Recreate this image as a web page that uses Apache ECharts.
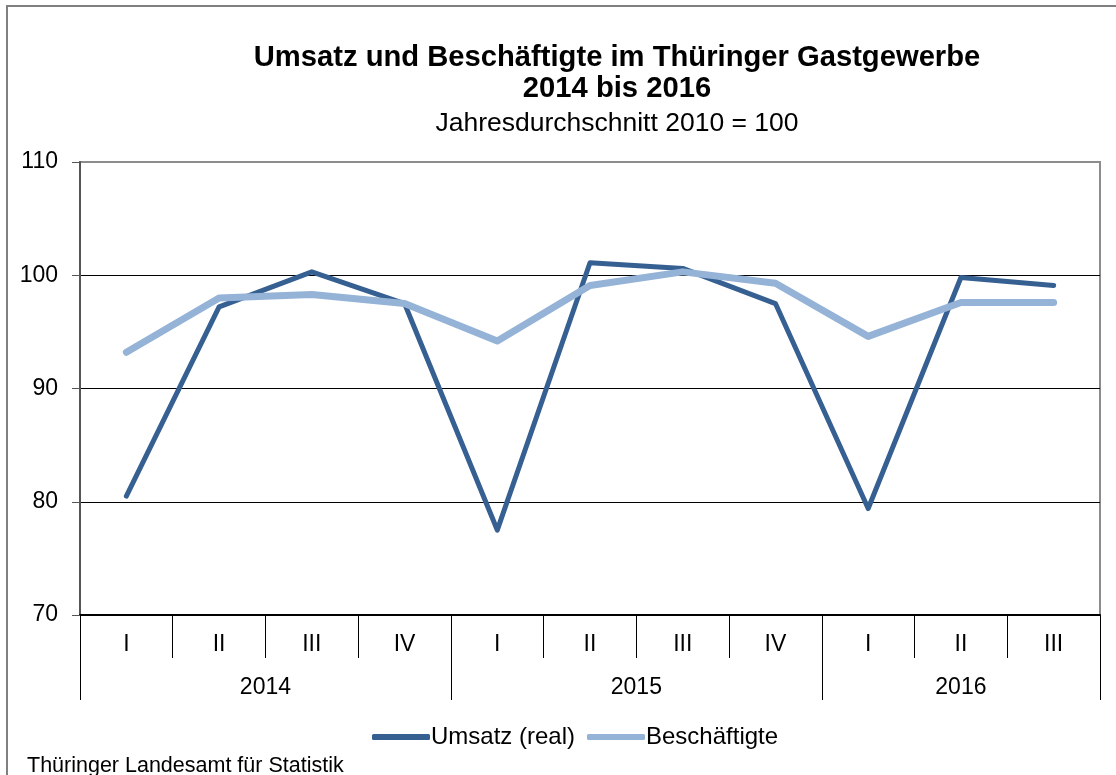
<!DOCTYPE html>
<html>
<head>
<meta charset="utf-8">
<script src="https://cdn.jsdelivr.net/npm/echarts@6/dist/echarts.min.js"></script>
<style>
html,body{margin:0;padding:0;background:#fff;}
#chart{width:1116px;height:775px;}
</style>
</head>
<body>
<div id="chart"></div>
<script>
// Data
var quarters = ['I','II','III','IV','I','II','III','IV','I','II','III'];
var years = ['2014','2015','2016'];
var quartersPerYear = [4,4,3];
var umsatz = [80.5, 97.2, 100.3, 97.5, 77.5, 101.1, 100.6, 97.5, 79.4, 99.8, 99.1];
var beschaeftigte = [93.2, 98.0, 98.3, 97.5, 94.2, 99.1, 100.3, 99.3, 94.6, 97.6, 97.6];
var yTicks = [70, 80, 90, 100, 110];

// year boundaries and label centres derived from the counts
var yearBounds = [0], yearCenters = [], acc = 0;
quartersPerYear.forEach(function(n){ yearCenters.push(acc + n/2); acc += n; yearBounds.push(acc); });

var FONT = 'Liberation Sans, Arial, sans-serif';
var chart = echarts.init(document.getElementById('chart'));
chart.setOption({
  animation: false,
  backgroundColor: '#fff',
  title: [
    {
      text: 'Umsatz und Beschäftigte im Thüringer Gastgewerbe\n2014 bis 2016',
      subtext: 'Jahresdurchschnitt 2010 = 100',
      left: 612, top: 37, textAlign: 'center',
      textStyle: {fontFamily: FONT, fontSize: 29.2, fontWeight: 'bold', color: '#000', lineHeight: 31},
      subtextStyle: {fontFamily: FONT, fontSize: 26.5, color: '#000'},
      itemGap: 6
    },
    {
      text: 'Thüringer Landesamt für Statistik',
      left: 22, top: 750,
      textStyle: {fontFamily: FONT, fontSize: 21.5, fontWeight: 'normal', color: '#000'}
    }
  ],
  legend: {
    left: 367, top: 720,
    icon: 'roundRect',
    itemWidth: 58, itemHeight: 6, itemGap: 12,
    textStyle: {fontFamily: FONT, fontSize: 24, color: '#000', padding: [0,0,0,-4]},
    data: [
      {name: 'Umsatz (real)', itemStyle: {color: '#376092'}},
      {name: 'Beschäftigte', itemStyle: {color: '#95b3d7'}}
    ]
  },
  grid: {
    left: 80, right: 16, top: 162, bottom: 160,
    show: true, borderColor: '#8c8c8c', borderWidth: 2, backgroundColor: 'transparent'
  },
  graphic: [{
    type: 'rect', silent: true, z: -1,
    shape: {x: 7, y: 6, width: 1200, height: 900},
    style: {fill: 'none', stroke: '#808080', lineWidth: 2}
  }],
  xAxis: [
    {
      type: 'category', data: quarters, boundaryGap: true, position: 'bottom',
      axisLine: {show: true, lineStyle: {color: '#000', width: 2}},
      axisTick: {show: true, length: 43, lineStyle: {color: '#000', width: 1}},
      axisLabel: {fontFamily: FONT, fontSize: 23, color: '#000', margin: 18}
    },
    {
      type: 'value', min: 0, max: quarters.length, position: 'bottom', offset: 0,
      axisLine: {show: false},
      splitLine: {show: false},
      axisTick: {show: true, length: 85, customValues: yearBounds, lineStyle: {color: '#000', width: 1}},
      axisLabel: {
        fontFamily: FONT, fontSize: 23, color: '#000', margin: 61,
        customValues: yearCenters,
        formatter: function(v){ var i = yearCenters.indexOf(v); return i >= 0 ? years[i] : ''; }
      }
    }
  ],
  yAxis: {
    type: 'value', min: 70, max: 110, interval: 10,
    axisLine: {show: true, lineStyle: {color: '#555', width: 2}},
    axisTick: {show: true, length: 8, lineStyle: {color: '#555', width: 1}},
    axisLabel: {fontFamily: FONT, fontSize: 23, color: '#000', margin: 22,
      formatter: function(v){ return yTicks.indexOf(v) >= 0 ? String(v) : ''; }},
    splitLine: {show: true, showMinLine: false, showMaxLine: false, lineStyle: {color: '#000', width: 1}}
  },
  series: [
    {
      name: 'Umsatz (real)', type: 'line', data: umsatz, xAxisIndex: 0,
      showSymbol: false, symbol: 'none',
      lineStyle: {color: '#376092', width: 5, cap: 'round', join: 'round'},
      itemStyle: {color: '#376092'}, z: 3
    },
    {
      name: 'Beschäftigte', type: 'line', data: beschaeftigte, xAxisIndex: 0,
      showSymbol: false, symbol: 'none',
      lineStyle: {color: '#95b3d7', width: 7, cap: 'round', join: 'round'},
      itemStyle: {color: '#95b3d7'}, z: 4
    }
  ]
});
</script>
</body>
</html>
